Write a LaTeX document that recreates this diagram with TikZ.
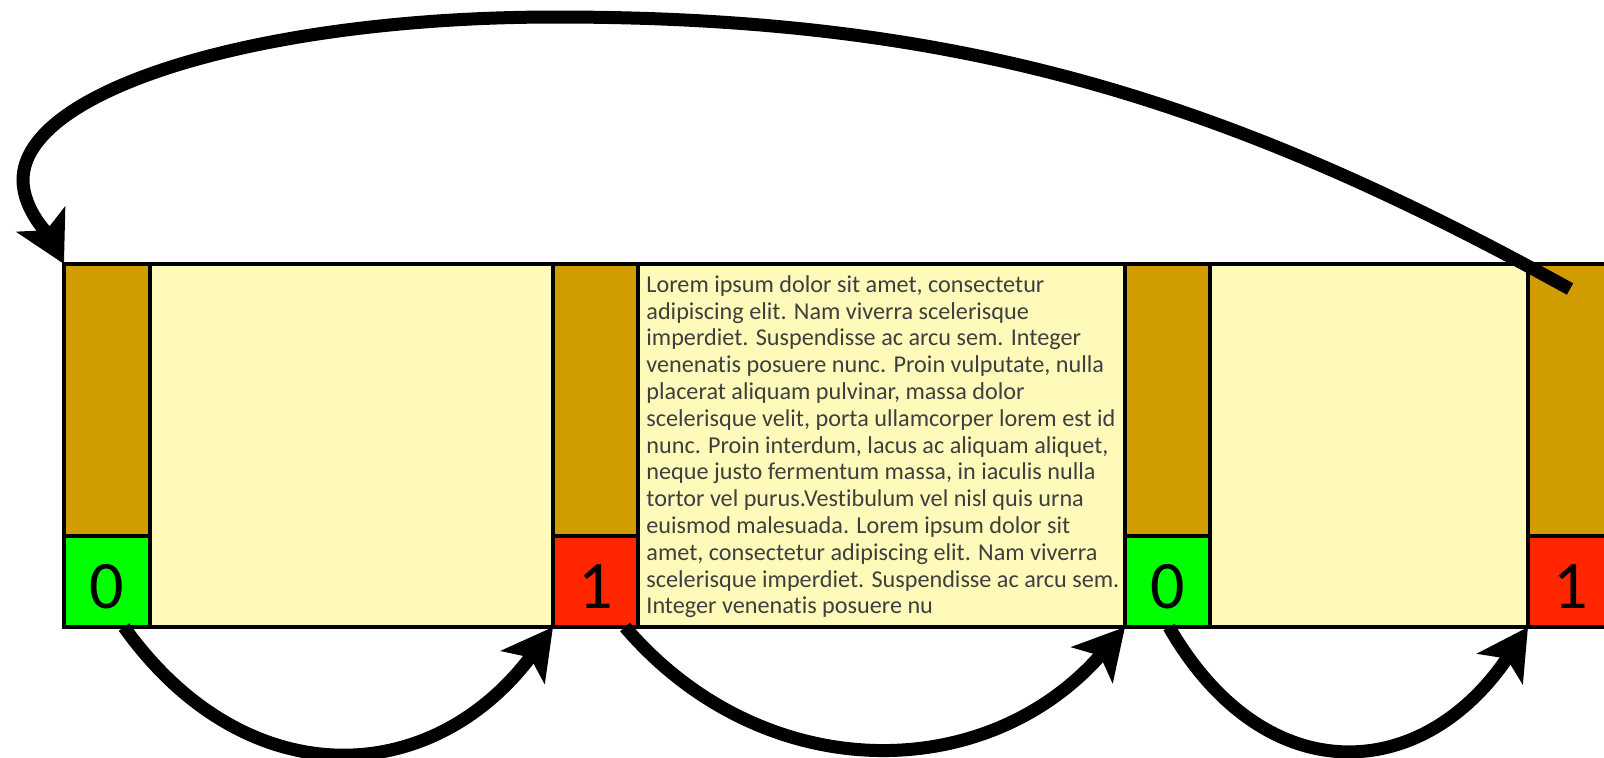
\documentclass[tikz,border=0pt]{standalone}
\usepackage{fontspec}
\setmainfont{Carlito}[RawFeature=-liga]
\usetikzlibrary{arrows.meta,calc}
\definecolor{cellbrown}{HTML}{D19C00}
\definecolor{cellyellow}{HTML}{FFFAB9}
\definecolor{bitgreen}{HTML}{00FF00}
\definecolor{bitred}{HTML}{FF2600}
\definecolor{textgray}{HTML}{3F3F3F}
\newcommand\mybox[7]{\node[#2, minimum width={(#5-#3)*0.5pt}, minimum height={(#6-#4)*0.5pt}] (#1) at ({(#3+#5)/2},{(#4+#6)/2}) {#7};}
\begin{document}
\begin{tikzpicture}[x=0.5pt,y=-0.5pt,
  cellbox/.style={draw=black, line width=2pt, inner sep=0pt, outer sep=0pt},
  headbox/.style={cellbox, fill=cellbrown},
  bodybox/.style={cellbox, fill=cellyellow},
  zerobox/.style={cellbox, fill=bitgreen, font=\fontsize{34}{34}\selectfont, text height=26.5pt, text depth=0pt},
  onebox/.style={zerobox, fill=bitred},
  loremtext/.style={inner sep=0pt, align=left, text=textgray, font=\fontsize{12.1}{13.4}\selectfont, anchor=north west},
  conn/.style={line width=6.5pt, -{Stealth[length=25pt,width=27pt,inset=6pt]}},
]
\useasboundingbox (0,0) rectangle (1604,757);
\clip (0,0) rectangle (1604,757);
% cell 1
\mybox{b1}{headbox}{64}{264}{150}{536}{}
\mybox{g1}{zerobox}{64}{536}{150}{627}{0}
\mybox{y1}{bodybox}{150}{264}{553}{627}{}
% cell 2
\mybox{b2}{headbox}{553}{264}{638}{536}{}
\mybox{r2}{onebox}{553}{536}{638}{627}{1}
\mybox{y2}{bodybox}{638}{264}{1125}{627}{}
% cell 3
\mybox{b3}{headbox}{1125}{264}{1210}{536}{}
\mybox{g3}{zerobox}{1125}{536}{1210}{627}{0}
\mybox{y3}{bodybox}{1210}{264}{1528}{627}{}
% cell 4
\mybox{b4}{headbox}{1528}{264}{1614}{536}{}
\mybox{r4}{onebox}{1528}{536}{1614}{627}{1}
% text
\node[loremtext] (txt) at (646,275) {Lorem ipsum dolor sit amet, consectetur\\
adipiscing elit. Nam viverra scelerisque\\
imperdiet. Suspendisse ac arcu sem. Integer\\
venenatis posuere nunc. Proin vulputate, nulla\\
placerat aliquam pulvinar, massa dolor\\
scelerisque velit, porta ullamcorper lorem est id\\
nunc. Proin interdum, lacus ac aliquam aliquet,\\
neque justo fermentum massa, in iaculis nulla\\
tortor vel purus.Vestibulum vel nisl quis urna\\
euismod malesuada. Lorem ipsum dolor sit\\
amet, consectetur adipiscing elit. Nam viverra\\
scelerisque imperdiet. Suspendisse ac arcu sem.\\
Integer venenatis posuere nu};
% connectors
\coordinate (s1) at ($(g1.south)+(17,0)$);
\coordinate (s2) at ($(r2.south)+(29.5,0)$);
\coordinate (s3) at ($(g3.south)+(1.5,0)$);
\coordinate (ts) at (1570,289);
\coordinate (peak) at (556,17);
\coordinate (lft) at (23,180);
\draw[conn] (s1) .. controls +(120,168) and +(-123,164) .. (r2.south west);
\draw[conn] (s2) .. controls +(137,160) and +(-139,160) .. (g3.south west);
\draw[conn] (s3) .. controls +(95,165) and +(-106,158) .. (r4.south west);
\draw[conn] (ts) .. controls +(-348,-192) and +(400,0) .. (peak)
  .. controls +(-297,0) and +(0,-90) .. (lft)
  .. controls +(0,30) and +(-14,-27) .. (b1.north west);
\end{tikzpicture}
\end{document}
